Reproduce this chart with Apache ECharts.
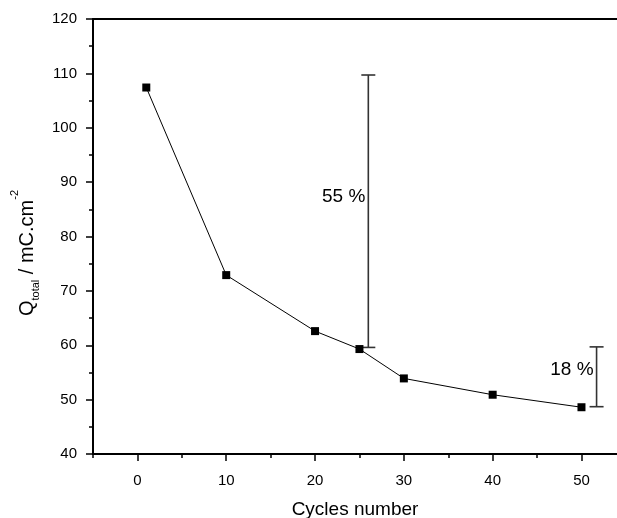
<!DOCTYPE html>
<html><head><meta charset="utf-8">
<script src="https://cdn.jsdelivr.net/npm/echarts@6/dist/echarts.min.js"></script>
<style>html,body{margin:0;padding:0;background:#fff}#c{width:617px;height:518px}</style>
</head><body><div id="c"></div>
<script>
const cycles = [1, 10, 20, 25, 30, 40, 50];
const qTotal = [107.4, 72.9, 62.6, 59.3, 53.9, 50.9, 48.6];
const xMajorTicks = [0, 10, 20, 30, 40, 50];
const xMinorTicks = [-5, 5, 15, 25, 35, 45];
const barX = [26, 51.7];
const barLow = [59.6, 48.7];
const barHigh = [109.7, 59.7];
const barLabels = ['55 %', '18 %'];
const barLabelY = [87.3, 55.4];

const FONT = '"Liberation Sans", Arial, sans-serif';
const chart = echarts.init(document.getElementById('c'), null, {renderer: 'canvas'});

const lineData = cycles.map((c, i) => [c, qTotal[i]]);
const barData = barX.map((x, i) => [x, barLow[i], barHigh[i], barLabelY[i]]);

const axisLine = {show: true, onZero: false, lineStyle: {color: '#000', width: 2}};
chart.setOption({
  animation: false,
  backgroundColor: '#fff',
  grid: {left: 93, right: 0, top: 19, bottom: 64, containLabel: false, outerBoundsMode: 'none'},
  xAxis: [
    {type: 'value', position: 'bottom', min: -5, max: 54, interval: 5,
     axisLine: axisLine, splitLine: {show: false},
     axisTick: {show: true, length: 4, customValues: xMinorTicks, lineStyle: {color: '#000', width: 1.5}},
     axisLabel: {show: false}},
    {type: 'value', position: 'bottom', min: -5, max: 54, interval: 5,
     axisLine: {show: false, onZero: false}, splitLine: {show: false},
     axisTick: {show: true, length: 7, customValues: xMajorTicks, lineStyle: {color: '#000', width: 1.5}},
     axisLabel: {show: true, customValues: xMajorTicks, margin: 19, color: '#000', fontSize: 15, fontFamily: FONT},
     name: 'Cycles number', nameLocation: 'middle', nameGap: 46,
     nameTextStyle: {color: '#000', fontSize: 19, fontFamily: FONT}},
    {type: 'value', position: 'top', min: -5, max: 54,
     axisLine: axisLine, axisTick: {show: false}, axisLabel: {show: false}, splitLine: {show: false}}
  ],
  yAxis: {type: 'value', min: 40, max: 120, interval: 10,
    axisLine: axisLine, splitLine: {show: false},
    axisTick: {show: true, length: 7, lineStyle: {color: '#000', width: 1.5}},
    minorTick: {show: true, splitNumber: 2, length: 4, lineStyle: {color: '#000', width: 1.5}},
    axisLabel: {margin: 16, color: '#000', fontSize: 15, fontFamily: FONT}},
  graphic: [{
    type: 'text', x: 25, y: 253, rotation: Math.PI / 2,
    style: {
      text: '{q|Q}{s|total}{q| / mC.cm}{p|-2}',
      align: 'center', verticalAlign: 'middle', fill: '#000',
      rich: {
        q: {fontSize: 20, fontFamily: FONT, fill: '#000', verticalAlign: 'bottom', lineHeight: 24},
        s: {fontSize: 11, fontFamily: FONT, fill: '#000', verticalAlign: 'bottom', lineHeight: 16, padding: [0, 0, -4, 0]},
        p: {fontSize: 11, fontFamily: FONT, fill: '#000', verticalAlign: 'top', lineHeight: 24, padding: [-4, 0, 0, 0]}
      }
    }
  }],
  series: [
    {type: 'line', xAxisIndex: 0, data: lineData, symbol: 'rect', symbolSize: 8,
     itemStyle: {color: '#000'}, lineStyle: {color: '#000', width: 1}, z: 3},
    {type: 'custom', xAxisIndex: 0, data: barData, clip: false, z: 2,
     encode: {x: 0, y: [1, 2]},
     renderItem: function (params, api) {
       const x = api.value(0), lo = api.value(1), hi = api.value(2), ly = api.value(3);
       const pLo = api.coord([x, lo]), pHi = api.coord([x, hi]), pL = api.coord([x, ly]);
       const cap = 7, st = {stroke: '#333', lineWidth: 1.6};
       return {type: 'group', children: [
         {type: 'line', shape: {x1: pLo[0], y1: pLo[1], x2: pHi[0], y2: pHi[1]}, style: st},
         {type: 'line', shape: {x1: pLo[0] - cap, y1: pLo[1], x2: pLo[0] + cap, y2: pLo[1]}, style: st},
         {type: 'line', shape: {x1: pHi[0] - cap, y1: pHi[1], x2: pHi[0] + cap, y2: pHi[1]}, style: st},
         {type: 'text', style: {text: barLabels[params.dataIndex], x: pL[0] - 3, y: pL[1],
           align: 'right', verticalAlign: 'middle', fill: '#000', fontSize: 19, fontFamily: FONT}}
       ]};
     }}
  ]
});
</script></body></html>
